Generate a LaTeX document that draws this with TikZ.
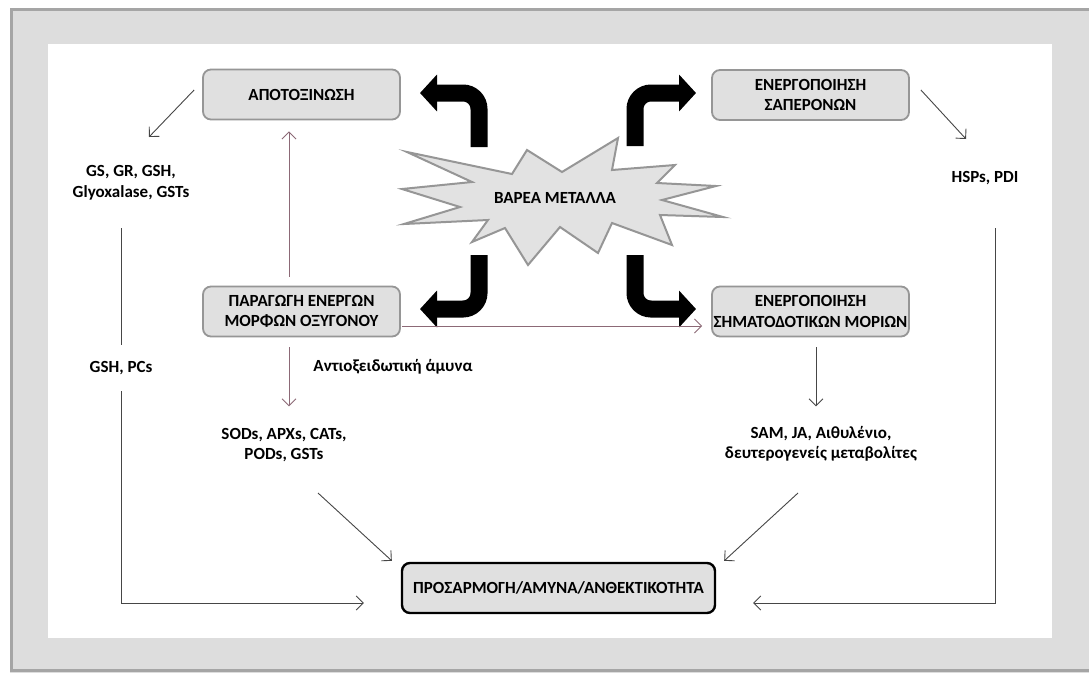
\documentclass[tikz,border=0pt]{standalone}
\usepackage{fontspec}
\setmainfont{Carlito}
\usetikzlibrary{arrows.meta,calc}
\definecolor{bgout}{RGB}{221,221,221}
\definecolor{frameline}{RGB}{165,165,165}
\definecolor{boxfill}{RGB}{224,224,224}
\definecolor{boxline}{RGB}{150,150,150}
\definecolor{starfill}{RGB}{226,226,226}
\definecolor{starline}{RGB}{150,150,150}
\definecolor{mauve}{RGB}{140,105,118}
\definecolor{darkline}{RGB}{70,70,70}
\begin{document}
\begin{tikzpicture}[x=1pt,y=-1pt,
  font=\bfseries\fontsize{17}{20.5}\selectfont,
  box/.style={draw=boxline, line width=1.8pt, fill=boxfill, rounded corners=8pt,
    minimum width=197pt, minimum height=50pt, align=center, inner xsep=0pt, inner ysep=2pt},
  finalbox/.style={draw=black, line width=2.4pt, fill=boxfill, rounded corners=8pt,
    minimum width=313pt, minimum height=50pt, align=center, inner xsep=0pt},
  lbl/.style={align=center, inner sep=2pt},
  arr/.style={draw=darkline, line width=0.9pt, -{Straight Barb[length=7pt,width=14pt]}},
  marr/.style={draw=mauve, line width=0.9pt, -{Straight Barb[length=7pt,width=14pt]}},
  fat/.style={draw=black, line width=17pt, rounded corners=16pt, -{Triangle[width=36pt,length=17pt]}},
  starshape/.style={draw=starline, line width=2pt, fill=starfill, line join=miter},
]
\useasboundingbox (0,0) rectangle (1089,673);
% frame
\fill[bgout] (10,8) rectangle (1089,673);
\draw[frameline, line width=3pt] (1089,9.5) -- (11.5,9.5) -- (11.5,670.5) -- (1089,670.5);
\fill[white] (48,44) rectangle (1052,638);

% star
\draw[starshape] (407,152) -- (512,174) -- (527,150) -- (562,172) -- (618,138) -- (612,170)
  -- (675,165) -- (657,183) -- (716,186) -- (662,200) -- (723,217) -- (660,215)
  -- (672,245) -- (612,223) -- (598,253) -- (560,227) -- (528,265) -- (505,228)
  -- (472,242) -- (488,220) -- (404,224) -- (460,207) -- (402,189) -- (472,182) -- cycle;
\node (metals) at (555,198) {ΒΑΡΕΑ ΜΕΤΑΛΛΑ};

% boxes
\node[box] (detox) at (301.5,94.5) {ΑΠΟΤΟΞΙΝΩΣΗ};
\node[box] (chap) at (810.5,95) {ΕΝΕΡΓΟΠΟΙΗΣΗ\\ΣΑΠΕΡΟΝΩΝ};
\node[box] (ros) at (301.5,311.5) {ΠΑΡΑΓΩΓΗ ΕΝΕΡΓΩΝ\\ΜΟΡΦΩΝ ΟΞΥΓΟΝΟΥ};
\node[box] (sig) at (810.5,311.5) {ΕΝΕΡΓΟΠΟΙΗΣΗ\\ΣΗΜΑΤΟΔΟΤΙΚΩΝ ΜΟΡΙΩΝ};
\node[finalbox] (adapt) at (558.5,588) {ΠΡΟΣΑΡΜΟΓΗ/ΑΜΥΝΑ/ΑΝΘΕΚΤΙΚΟΤΗΤΑ};

% labels
\node[lbl] (gs) at (131,183) {GS, GR, GSH,\\Glyoxalase, GSTs};
\node[lbl] (hsp) at (985,178) {HSPs, PDI};
\node[lbl] (antiox) at (393,367) {Αντιοξειδωτική άμυνα};
\node[lbl] (sod) at (284,445) {SODs, APXs, CATs,\\PODs, GSTs};
\node[lbl] (sam) at (821,444) {SAM, JA, Αιθυλένιο,\\δευτερογενείς μεταβολίτες};

% thick arrows from the star
\coordinate (tl) at (479,147);
\coordinate (tr) at (635,146);
\coordinate (bl) at (479,255);
\coordinate (br) at (635,255);
\draw[fat] (tl) -- (479,93) -- (420,93);
\draw[fat] (tr) -- (635,93) -- (696,93);
\draw[fat] (bl) -- (479,309) -- (420,309);
\draw[fat] (br) -- (635,309) -- (696,309);

% thin arrows
\draw[arr] ($(detox.west)+(-8,-4.5)$) -- ($(gs)+(18,-46)$);
\draw[arr] ($(chap.east)+(11,-5)$) -- ($(hsp)+(-19,-39)$);
\draw[marr] ($(ros.north)+(-12.5,-9)$) -- ($(detox.south)+(-12.5,11)$);
\draw[marr] ($(ros.south)+(-12.5,10)$) -- ($(ros.south)+(-12.5,69)$);
\draw[marr] ($(ros.east)+(1,14.5)$) -- ($(sig.west)+(-9,14.5)$);
\draw[arr] ($(sig.south)+(5.5,10)$) -- ($(sig.south)+(5.5,69)$);
\draw[arr] ($(sod)+(34,48)$) -- ($(adapt.north west)+(-9,-1)$);
\draw[arr] ($(sam)+(-23,49)$) -- ($(adapt.north east)+(8,-1)$);

\coordinate (lstart) at (121,228);
\coordinate (rstart) at (995,228);
\draw[arr] (lstart) |- ($(adapt.west)+(-37,15)$);
\draw[arr] (rstart) |- ($(adapt.east)+(37,15)$);
\node[lbl, fill=white, inner ysep=16pt] (gshpc) at (121,368) {GSH, PCs};
\end{tikzpicture}
\end{document}
